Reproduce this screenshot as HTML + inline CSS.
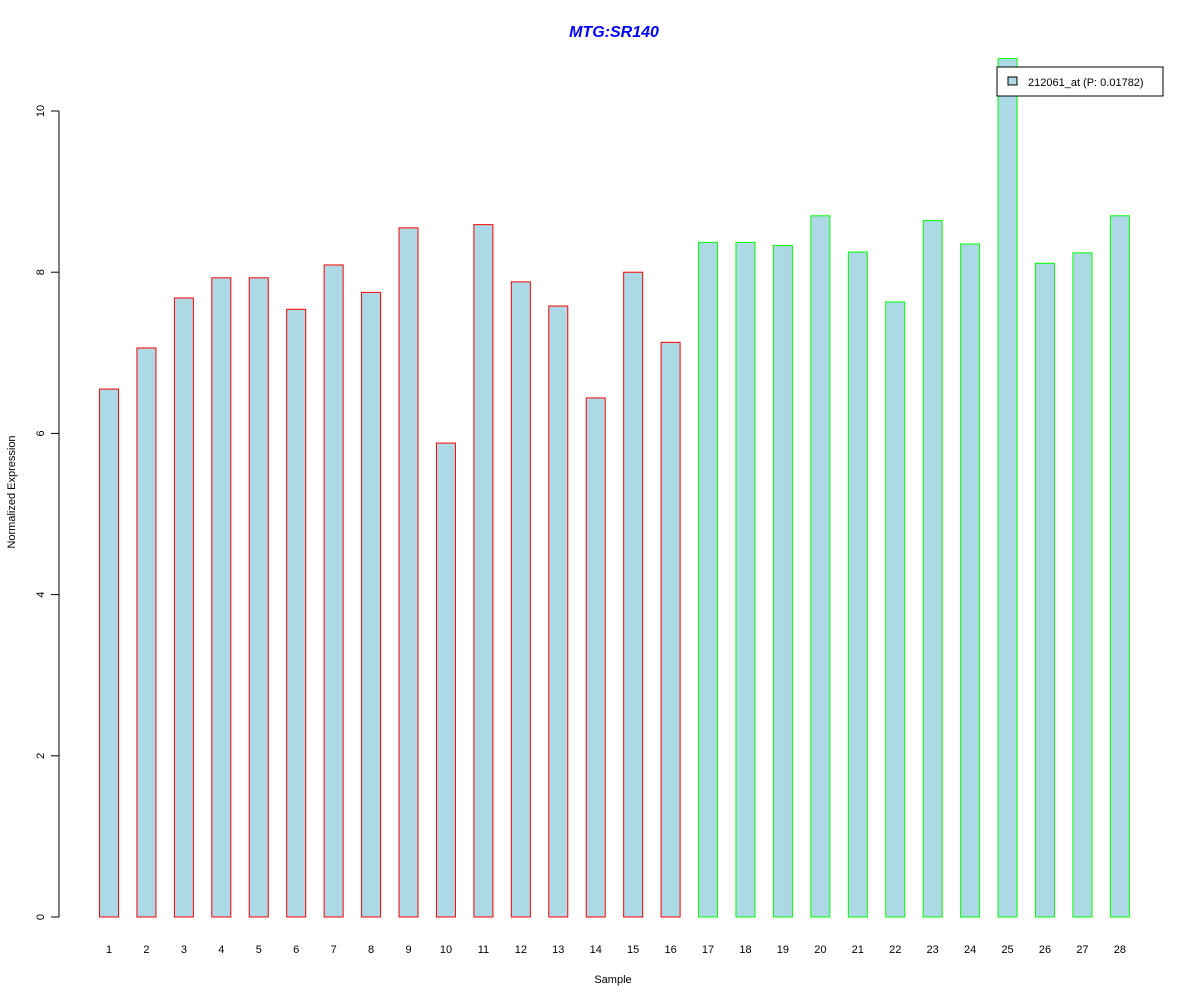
<!DOCTYPE html>
<html><head><meta charset="utf-8"><style>body{margin:0;background:#fff}svg{display:block;font-family:"Liberation Sans",sans-serif}</style></head>
<body>
<svg id="c" width="1200" height="1000" xmlns="http://www.w3.org/2000/svg">
<text x="614" y="37" text-anchor="middle" font-size="16" font-weight="bold" font-style="italic" fill="#0000ff">MTG:SR140</text>
<text x="613" y="983" text-anchor="middle" font-size="11">Sample</text>
<text transform="translate(15,492) rotate(-90)" text-anchor="middle" font-size="11">Normalized Expression</text>
<g id="bars"></g><g id="yaxis"></g><g id="xlabels"></g>
<g>
<rect x="997" y="67" width="166" height="29" fill="#fff" stroke="#000"/>
<rect x="1008" y="77" width="9" height="8" fill="#add8e6" stroke="#000"/>
<text x="1028" y="86" font-size="11">212061_at (P: 0.01782)</text>
</g>
</svg>
<script>
const categories=["1","2","3","4","5","6","7","8","9","10","11","12","13","14","15","16","17","18","19","20","21","22","23","24","25","26","27","28"];
const values=[6.55,7.06,7.68,7.93,7.93,7.54,8.09,7.75,8.55,5.88,8.59,7.88,7.58,6.44,8.00,7.13,8.37,8.37,8.33,8.70,8.25,7.63,8.64,8.35,10.65,8.11,8.24,8.70];
const groups=[1,1,1,1,1,1,1,1,1,1,1,1,1,1,1,1,2,2,2,2,2,2,2,2,2,2,2,2];
const yTicks=[0,2,4,6,8,10];
const NS="http://www.w3.org/2000/svg";
const y=v=>917-v*80.6;
const x=i=>109+i*37.44;
const bw=19;
const bars=document.getElementById('bars'),xl=document.getElementById('xlabels'),ya=document.getElementById('yaxis');
function mk(t,a){const e=document.createElementNS(NS,t);for(const k in a)e.setAttribute(k,a[k]);return e;}
categories.forEach((c,i)=>{
 const r=mk('rect',{x:x(i)-bw/2,y:y(values[i]),width:bw,height:y(0)-y(values[i]),fill:'#add8e6',stroke:groups[i]===1?'#ff0000':'#00ff00'});
 
 
 bars.appendChild(r);
 const t=mk('text',{x:x(i),y:953,'text-anchor':'middle','font-size':11});
 t.textContent=c;
 
 
 xl.appendChild(t);
});
const al=mk('line',{x1:59,x2:59,y1:y(0),y2:y(10),stroke:'#000'});


ya.appendChild(al);
yTicks.forEach(v=>{
 const l=mk('line',{x1:51,x2:59,y1:y(v),y2:y(v),stroke:'#000'});
 
 
 ya.appendChild(l);
 const t=mk('text',{transform:`translate(44,${y(v)}) rotate(-90)`,'text-anchor':'middle','font-size':11});
 t.textContent=v;
 
 
 ya.appendChild(t);
});
</script>
</body></html>
